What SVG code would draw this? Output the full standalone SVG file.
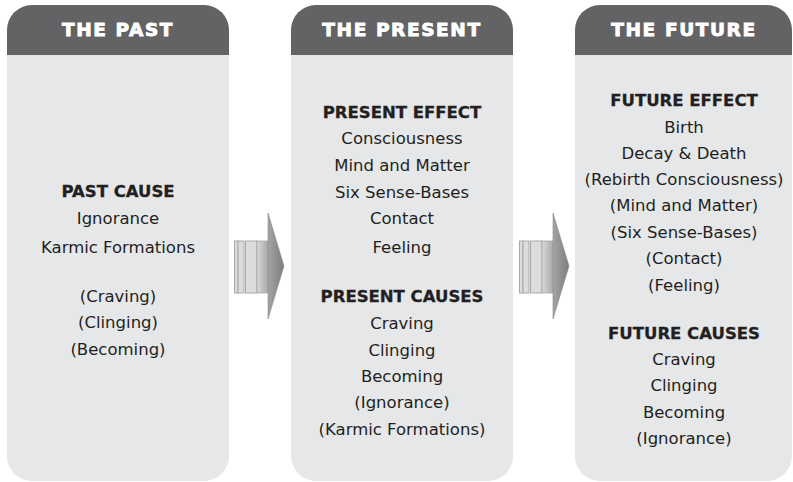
<svg xmlns="http://www.w3.org/2000/svg" width="793" height="482" viewBox="0 0 793 482">
<defs>
<style>
.panel{fill:#e6e7e9}
.head{fill:#636366}
.ht{font-family:"DejaVu Sans",Verdana,sans-serif;font-weight:bold;font-size:18.5px;fill:#ffffff;stroke:#ffffff;stroke-width:0.9px;text-anchor:middle;letter-spacing:1.6px}
.t{font-family:"DejaVu Sans",Verdana,sans-serif;font-size:16.5px;fill:#231f20;text-anchor:middle}
.b{font-weight:bold;stroke:#231f20;stroke-width:0.3px}
.stripe{fill:#dcdcdd;stroke:#a9a9ab;stroke-width:1}
</style>
<linearGradient id="bodyG" x1="0" y1="0" x2="1" y2="0">
<stop offset="0" stop-color="#d9d9da"/>
<stop offset="1" stop-color="#a4a4a6"/>
</linearGradient>
<linearGradient id="triG" x1="0" y1="0" x2="1" y2="0">
<stop offset="0" stop-color="#a4a4a6"/>
<stop offset="1" stop-color="#7d7d80"/>
</linearGradient>
<g id="arrow">
<rect class="stripe" x="0.5" y="241" width="3.5" height="52"/>
<rect class="stripe" x="4" y="241" width="6" height="52"/>
<rect class="stripe" x="11.5" y="241" width="11.5" height="52"/>
<rect x="23" y="241" width="12" height="52" fill="url(#bodyG)" stroke="#a9a9ab" stroke-width="0.8"/>
<path d="M34,213 L50,266 L34,319 Z" fill="url(#triG)" stroke="#8a8a8c" stroke-width="0.6"/>
</g>
</defs>

<g id="past">
<rect class="panel" x="7" y="5" width="222" height="476" rx="25"/>
<path class="head" d="M7,55 V30 A25,25 0 0 1 32,5 H204 A25,25 0 0 1 229,30 V55 Z"/>
<text class="ht" x="118" y="36">THE PAST</text>
<text class="t b" x="118" y="197">PAST CAUSE</text>
<text class="t" x="118" y="224">Ignorance</text>
<text class="t" x="118" y="253">Karmic Formations</text>
<text class="t" x="118" y="302">(Craving)</text>
<text class="t" x="118" y="328">(Clinging)</text>
<text class="t" x="118" y="355">(Becoming)</text>
</g>

<g id="present">
<rect class="panel" x="291" y="5" width="222" height="476" rx="25"/>
<path class="head" d="M291,55 V30 A25,25 0 0 1 316,5 H488 A25,25 0 0 1 513,30 V55 Z"/>
<text class="ht" x="402" y="36">THE PRESENT</text>
<text class="t b" x="402" y="118">PRESENT EFFECT</text>
<text class="t" x="402" y="144">Consciousness</text>
<text class="t" x="402" y="171">Mind and Matter</text>
<text class="t" x="402" y="198">Six Sense-Bases</text>
<text class="t" x="402" y="224">Contact</text>
<text class="t" x="402" y="253">Feeling</text>
<text class="t b" x="402" y="302">PRESENT CAUSES</text>
<text class="t" x="402" y="329">Craving</text>
<text class="t" x="402" y="356">Clinging</text>
<text class="t" x="402" y="382">Becoming</text>
<text class="t" x="402" y="408">(Ignorance)</text>
<text class="t" x="402" y="435">(Karmic Formations)</text>
</g>

<g id="future">
<rect class="panel" x="575" y="5" width="217" height="476" rx="25"/>
<path class="head" d="M575,55 V30 A25,25 0 0 1 600,5 H767 A25,25 0 0 1 792,30 V55 Z"/>
<text class="ht" x="684" y="36">THE FUTURE</text>
<text class="t b" x="684" y="106">FUTURE EFFECT</text>
<text class="t" x="684" y="133">Birth</text>
<text class="t" x="684" y="159">Decay &amp; Death</text>
<text class="t" x="684" y="185">(Rebirth Consciousness)</text>
<text class="t" x="684" y="211">(Mind and Matter)</text>
<text class="t" x="684" y="238">(Six Sense-Bases)</text>
<text class="t" x="684" y="264">(Contact)</text>
<text class="t" x="684" y="291">(Feeling)</text>
<text class="t b" x="684" y="339">FUTURE CAUSES</text>
<text class="t" x="684" y="365">Craving</text>
<text class="t" x="684" y="391">Clinging</text>
<text class="t" x="684" y="418">Becoming</text>
<text class="t" x="684" y="444">(Ignorance)</text>
</g>

<g id="connectors">
<use href="#arrow" x="234" y="0"/>
<use href="#arrow" x="519" y="0"/>
</g>
</svg>
